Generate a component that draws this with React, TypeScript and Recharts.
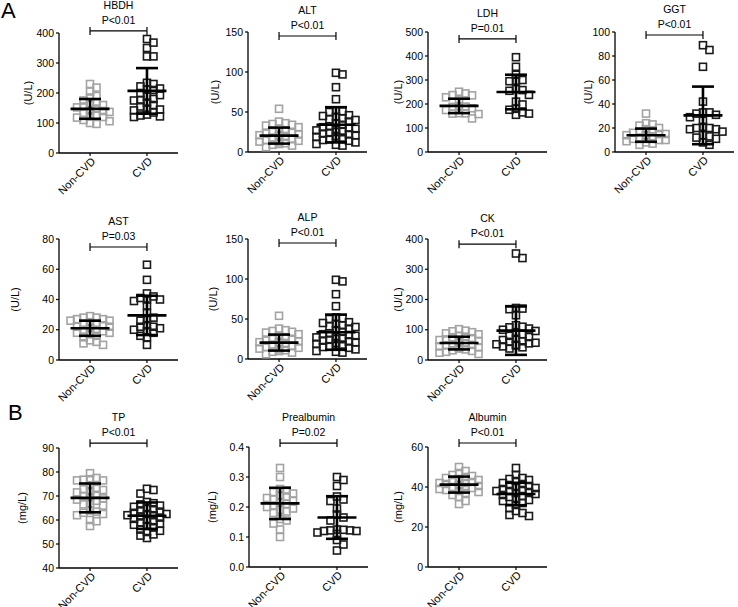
import React from "react";
import { ScatterChart, Scatter, XAxis, YAxis, ReferenceLine } from "recharts";

const FONT = '"Liberation Sans", Arial, Helvetica, sans-serif';
const GROUPS = ["Non-CVD", "CVD"];
const GREY = "#a3a3a3";
const BLACK = "#1a1a1a";

// ---- values ----
const hbdhNon = [230, 218, 205, 190, 185, 175, 168, 165, 160, 155, 152, 148, 142, 140, 137, 133, 125, 122, 120, 118, 110, 106, 100, 97];
const hbdhCvd = [380, 368, 350, 322, 322, 234, 230, 222, 215, 212, 210, 200, 193, 188, 180, 176, 175, 168, 160, 155, 148, 145, 142, 135, 128, 125, 122, 120];
const hbdhMean = [147, 207];
const hbdhSd = [33, 76];

const altNon = [54, 38, 36, 35, 34, 33, 31, 29, 27, 25, 24, 23, 22, 21, 21, 20, 20, 19, 18, 17, 16, 15, 14, 13, 12, 11, 10, 9, 8, 6];
const altCvd = [99, 97, 81, 66, 52, 51, 50, 46, 45, 44, 42, 41, 40, 38, 36, 34, 32, 31, 30, 29, 28, 27, 26, 25, 24, 23, 22, 21, 20, 19, 18, 17, 16, 16, 15, 14, 12, 10, 9, 8];
const altMean = [20.5, 34];
const altSd = [10, 22];

const ldhNon = [251, 244, 237, 236, 228, 216, 191, 189, 188, 182, 175, 162, 161, 160, 158, 140];
const ldhCvd = [395, 355, 322, 300, 297, 295, 262, 258, 255, 238, 210, 198, 180, 176, 165, 160, 155];
const ldhMean = [192, 250];
const ldhSd = [30, 72];

const ggtNon = [32, 24, 23, 22, 20, 19, 18, 17, 16, 15, 15, 14, 14, 13, 13, 12, 12, 11, 11, 10, 10, 9, 8, 7, 6];
const ggtCvd = [89, 85, 71, 42, 33, 33, 32, 31, 29, 26, 21, 20, 20, 19, 19, 17, 14, 13, 12, 11, 8, 6];
const ggtMean = [14, 30.5];
const ggtSd = [5.5, 24];

const astNon = [29, 28, 28, 27, 27, 26, 26, 25, 24, 24, 23, 22, 22, 21, 20, 20, 19, 18, 18, 17, 16, 15, 13, 12, 11, 10];
const astCvd = [63, 53, 44, 42, 41, 40, 40, 39, 36, 31, 28, 27, 26, 23, 22, 22, 21, 20, 19, 18, 16, 15, 10];
const astMean = [21, 29.5];
const astSd = [5, 13];

const alpNon = [54, 38, 36, 35, 34, 33, 31, 29, 27, 25, 24, 23, 22, 21, 21, 20, 20, 19, 18, 17, 16, 15, 14, 13, 12, 11, 10, 9, 8, 6];
const alpCvd = [99, 97, 81, 66, 52, 51, 50, 46, 45, 44, 42, 41, 40, 38, 36, 34, 32, 31, 30, 29, 28, 27, 26, 25, 24, 23, 22, 21, 20, 19, 18, 17, 16, 16, 15, 14, 12, 10, 9, 8];
const alpMean = [20.5, 33.5];
const alpSd = [10, 22];

const ckNon = [102, 97, 95, 92, 88, 85, 80, 77, 75, 72, 68, 66, 63, 61, 58, 55, 52, 50, 48, 45, 42, 40, 38, 35, 32, 30, 27, 24, 20];
const ckCvd = [352, 337, 172, 170, 168, 148, 115, 110, 108, 104, 100, 96, 90, 85, 80, 76, 70, 66, 62, 60, 57, 55, 52, 50, 48, 45, 42, 38];
const ckMean = [56, 97];
const ckSd = [21, 80];

const tpNon = [79.5, 77.5, 77, 76.8, 76.5, 76.5, 74.5, 73, 72.8, 72.5, 72, 71.5, 70.5, 70, 69.5, 69, 68.5, 68, 67, 66.5, 66, 64, 63.5, 63, 62.5, 62, 60, 59.5, 57.5];
const tpCvd = [73, 72.5, 71, 67.5, 67, 66.5, 66, 65.5, 65, 64.5, 64, 63.5, 63, 62.5, 62.5, 62, 62, 61.5, 61, 60.5, 60, 59.5, 59, 58.5, 58, 57.5, 57, 56, 55.5, 55, 54, 53.5, 52.5];
const tpMean = [69.2, 61.8];
const tpSd = [6, 5.5];

const preNon = [0.33, 0.3, 0.26, 0.255, 0.25, 0.245, 0.24, 0.235, 0.23, 0.225, 0.22, 0.215, 0.21, 0.205, 0.2, 0.195, 0.19, 0.185, 0.18, 0.16, 0.155, 0.145, 0.125, 0.1];
const preCvd = [0.3, 0.29, 0.27, 0.235, 0.225, 0.22, 0.195, 0.175, 0.165, 0.155, 0.125, 0.124, 0.122, 0.122, 0.12, 0.12, 0.115, 0.11, 0.09, 0.075, 0.055];
const preMean = [0.212, 0.165];
const preSd = [0.052, 0.071];

const albNon = [50, 48, 47, 46, 45.5, 45, 44.5, 44, 43.5, 43, 42.5, 42, 42, 41.5, 41, 41, 40.5, 40, 40, 39.5, 39, 38.5, 38, 37.5, 37, 36, 35, 33, 31.5];
const albCvd = [49.5, 46, 44.5, 44, 43.5, 43, 42, 41.5, 41, 40.5, 40, 39.5, 39, 38.5, 38, 38, 37.5, 37, 36.5, 36, 35.5, 35, 34, 33.5, 33, 32, 31, 29.5, 28, 27, 26, 25.5];
const albMean = [41.2, 36.5];
const albSd = [4, 5.6];

type PanelCfg = {
  title: string;
  p: string;
  unit: string;
  ticks: number[];
  non: number[];
  cvd: number[];
  mean: number[];
  sd: number[];
  bracket: number;
  dec?: number;
};

const panels: PanelCfg[] = [
  { title: "HBDH", p: "P<0.01", unit: "(U/L)", ticks: [0, 100, 200, 300, 400], non: hbdhNon, cvd: hbdhCvd, mean: hbdhMean, sd: hbdhSd, bracket: 407 },
  { title: "ALT", p: "P<0.01", unit: "(U/L)", ticks: [0, 50, 100, 150], non: altNon, cvd: altCvd, mean: altMean, sd: altSd, bracket: 145 },
  { title: "LDH", p: "P=0.01", unit: "(U/L)", ticks: [0, 100, 200, 300, 400, 500], non: ldhNon, cvd: ldhCvd, mean: ldhMean, sd: ldhSd, bracket: 471 },
  { title: "GGT", p: "P<0.01", unit: "(U/L)", ticks: [0, 20, 40, 60, 80, 100], non: ggtNon, cvd: ggtCvd, mean: ggtMean, sd: ggtSd, bracket: 97.5 },
  { title: "AST", p: "P=0.03", unit: "(U/L)", ticks: [0, 20, 40, 60, 80], non: astNon, cvd: astCvd, mean: astMean, sd: astSd, bracket: 74.7 },
  { title: "ALP", p: "P<0.01", unit: "(U/L)", ticks: [0, 50, 100, 150], non: alpNon, cvd: alpCvd, mean: alpMean, sd: alpSd, bracket: 145 },
  { title: "CK", p: "P<0.01", unit: "(U/L)", ticks: [0, 100, 200, 300, 400], non: ckNon, cvd: ckCvd, mean: ckMean, sd: ckSd, bracket: 383 },
  { title: "TP", p: "P<0.01", unit: "(mg/L)", ticks: [40, 50, 60, 70, 80, 90], non: tpNon, cvd: tpCvd, mean: tpMean, sd: tpSd, bracket: 92 },
  { title: "Prealbumin", p: "P=0.02", unit: "(mg/L)", ticks: [0, 0.1, 0.2, 0.3, 0.4], non: preNon, cvd: preCvd, mean: preMean, sd: preSd, bracket: 0.413, dec: 1 },
  { title: "Albumin", p: "P<0.01", unit: "(mg/L)", ticks: [0, 20, 40, 60], non: albNon, cvd: albCvd, mean: albMean, sd: albSd, bracket: 62 },
];

// where each plot area sits on the page: axis x, plot top, plot height, y-label gap
const layout = [
  { left: 59, top: 33, h: 120, gap: 31 },
  { left: 248, top: 32, h: 120, gap: 33 },
  { left: 428, top: 32, h: 120, gap: 30 },
  { left: 615, top: 32, h: 120, gap: 27 },
  { left: 59, top: 239, h: 121, gap: 44 },
  { left: 248, top: 239, h: 120, gap: 35 },
  { left: 428, top: 239, h: 121, gap: 30 },
  { left: 59, top: 448, h: 120, gap: 37 },
  { left: 249, top: 447, h: 120, gap: 37 },
  { left: 428, top: 447, h: 120, gap: 30 },
];

const PLOT_W = 119;
const Y_W = 50;
const M_TOP = 40;
const M_RIGHT = 4;
const X_H = 50;
const X_DOMAIN: [number, number] = [-0.545, 1.545];

// beeswarm-ish spread, kept within +-21px of the group centre
function swarm(values: number[], center: number, pxX: number, pxY: number) {
  const gap = 6;
  const step = 6.5 / pxX;
  const maxK = Math.floor(21 / 6.5);
  const placed: { x: number; y: number }[] = [];
  [...values]
    .sort((a, b) => b - a)
    .forEach((v) => {
      let best = center;
      let bestHits = Infinity;
      for (let k = 0; k <= maxK * 2; k++) {
        const off = (k % 2 === 1 ? 1 : -1) * Math.ceil(k / 2) * step;
        const x = center + off;
        const hits = placed.filter(
          (p) => Math.abs(p.x - x) * pxX < gap && Math.abs(p.y - v) * pxY < gap
        ).length;
        if (hits < bestHits) {
          best = x;
          bestHits = hits;
        }
        if (hits === 0) break;
      }
      placed.push({ x: best, y: v });
    });
  return placed;
}

const square = (color: string) => (props: any) => (
  <rect
    x={props.cx - 3.5}
    y={props.cy - 3.5}
    width={7}
    height={7}
    fill="none"
    stroke={color}
    strokeWidth={1.6}
  />
);

// mean line with SD whiskers, drawn on top of the points
const statShape = (pxY: number) => (props: any) => {
  const { cx, cy, payload } = props;
  const s = payload.sd * pxY;
  return (
    <g stroke="#000" strokeWidth={2.6}>
      <line x1={cx - 19.5} x2={cx + 19.5} y1={cy} y2={cy} />
      <line x1={cx} x2={cx} y1={cy - s} y2={cy + s} />
      <line x1={cx - 11} x2={cx + 11} y1={cy - s} y2={cy - s} />
      <line x1={cx - 11} x2={cx + 11} y1={cy + s} y2={cy + s} />
    </g>
  );
};

const XTick = (props: any) => {
  const { x, y, payload } = props;
  const tx = x + 6;
  const ty = y + 4;
  return (
    <text
      x={tx}
      y={ty}
      transform={`rotate(-45 ${tx} ${ty})`}
      textAnchor="end"
      fontSize={11}
      fontFamily={FONT}
      fill="#000"
    >
      {GROUPS[payload.value]}
    </text>
  );
};

function Panel({ cfg, pos }: { cfg: PanelCfg; pos: (typeof layout)[number] }) {
  const lo = cfg.ticks[0];
  const hi = cfg.ticks[cfg.ticks.length - 1];
  const pxY = pos.h / (hi - lo);
  const pxX = PLOT_W / (X_DOMAIN[1] - X_DOMAIN[0]);
  const non = swarm(cfg.non, 0, pxX, pxY);
  const cvd = swarm(cfg.cvd, 1, pxX, pxY);
  const stats = [0, 1].map((g) => ({ x: g, y: cfg.mean[g], sd: cfg.sd[g] }));

  // bracket + p value + panel title + unit label, placed from the bracket's own pixel ends
  const bracketShape = (p: any) => {
    const axisX = p.x1 - (0 - X_DOMAIN[0]) * pxX;
    const lx = axisX - pos.gap;
    const ly = M_TOP + pos.h / 2;
    return (
      <g>
        <line x1={p.x1} y1={p.y1} x2={p.x2} y2={p.y2} stroke="#000" strokeWidth={1.2} />
        <line x1={p.x1} y1={p.y1 - 4} x2={p.x1} y2={p.y1 + 4} stroke="#000" strokeWidth={1.2} />
        <line x1={p.x2} y1={p.y2 - 4} x2={p.x2} y2={p.y2 + 4} stroke="#000" strokeWidth={1.2} />
        <text x={(p.x1 + p.x2) / 2} y={p.y1 - 7} textAnchor="middle" fontSize={10.5} fontFamily={FONT} fill="#000">
          {cfg.p}
        </text>
        <text x={(p.x1 + p.x2) / 2} y={p.y1 - 22} textAnchor="middle" fontSize={10.5} fontFamily={FONT} fill="#000">
          {cfg.title}
        </text>
        <text
          x={lx}
          y={ly}
          transform={`rotate(-90 ${lx} ${ly})`}
          textAnchor="middle"
          dy="0.35em"
          fontSize={11}
          fontFamily={FONT}
          fill="#000"
        >
          {cfg.unit}
        </text>
      </g>
    );
  };

  return (
    <div style={{ position: "absolute", left: pos.left - Y_W, top: pos.top - M_TOP }}>
      <ScatterChart
        width={Y_W + PLOT_W + M_RIGHT}
        height={M_TOP + pos.h + X_H}
        margin={{ top: M_TOP, right: M_RIGHT, bottom: 0, left: 0 }}
      >
        <XAxis
          type="number"
          dataKey="x"
          domain={X_DOMAIN}
          ticks={[0, 1]}
          interval={0}
          allowDataOverflow
          height={X_H}
          tickSize={3}
          tick={<XTick />}
          axisLine={{ stroke: "#000", strokeWidth: 1.3 }}
          tickLine={{ stroke: "#000", strokeWidth: 1.2 }}
        />
        <YAxis
          type="number"
          dataKey="y"
          domain={[lo, hi]}
          ticks={cfg.ticks}
          interval={0}
          allowDataOverflow
          width={Y_W}
          tickSize={3}
          tickFormatter={(v: number) => (cfg.dec ? v.toFixed(cfg.dec) : String(v))}
          tick={{ fontSize: 10.5, fill: "#000", fontFamily: FONT }}
          axisLine={{ stroke: "#000", strokeWidth: 1.3 }}
          tickLine={{ stroke: "#000", strokeWidth: 1.2 }}
        />
        <Scatter data={non} shape={square(GREY)} isAnimationActive={false} />
        <Scatter data={cvd} shape={square(BLACK)} isAnimationActive={false} />
        <Scatter data={stats} shape={statShape(pxY)} isAnimationActive={false} />
        <ReferenceLine
          segment={[
            { x: 0, y: cfg.bracket },
            { x: 1, y: cfg.bracket },
          ]}
          ifOverflow="visible"
          shape={bracketShape}
        />
      </ScatterChart>
    </div>
  );
}

export default function App() {
  return (
    <div
      style={{
        position: "fixed",
        left: 0,
        top: 0,
        width: 738,
        height: 607,
        background: "#fff",
        overflow: "hidden",
        fontFamily: FONT,
      }}
    >
      {panels.map((cfg, i) => (
        <Panel key={cfg.title} cfg={cfg} pos={layout[i]} />
      ))}
      <div style={{ position: "absolute", left: 1, top: -2, fontSize: 22, fontFamily: FONT }}>A</div>
      <div style={{ position: "absolute", left: 8, top: 400, fontSize: 22, fontFamily: FONT }}>B</div>
    </div>
  );
}
